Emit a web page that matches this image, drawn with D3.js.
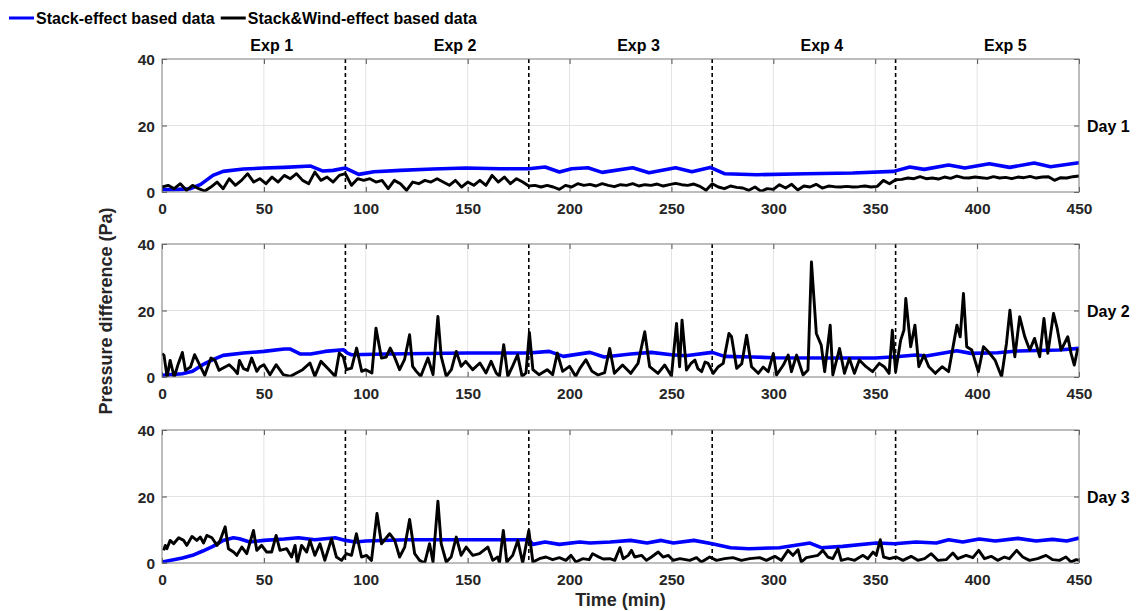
<!DOCTYPE html>
<html><head><meta charset="utf-8">
<script src="https://cdn.jsdelivr.net/npm/d3@7/dist/d3.min.js"></script>
<style>
html,body{margin:0;padding:0;background:#fff;}
svg{display:block;font-family:"Liberation Sans",Arial,sans-serif;}
</style></head>
<body>
<script>
// ---------- data ----------
const xTicks = [0,50,100,150,200,250,300,350,400,450];
const yTicks = [0,20,40];
const expLabels = ["Exp 1","Exp 2","Exp 3","Exp 4","Exp 5"];
const expMids = [45,135,225,315,405];
const dividers = [90,180,270,360];
const dayLabels = ["Day 1","Day 2","Day 3"];
const seriesNames = ["Stack-effect based data","Stack&Wind-effect based data"];

// Stack-effect (blue) [time, Pa]
const day1Stack = [[0,0.7],[8,0.8],[14,1.0],[19,2.3],[25,5],[30,6.2],[40,6.9],[50,7.2],[60,7.4],[73,7.8],[79,6.3],[84,6.5],[90,7.2],[96.5,5.3],[104,6.1],[117,6.5],[133,6.9],[149,7.2],[166,7.0],[180,7.0],[188,7.5],[195,6.0],[201,7.0],[209,7.3],[216,5.9],[231,7.3],[239,5.8],[252,7.3],[260,6.1],[269,7.4],[276,5.5],[292,5.2],[316,5.5],[339,5.7],[359,6.2],[367,7.5],[374,6.8],[386,8.1],[394,7.2],[406,8.5],[416,7.4],[428,8.7],[436,7.6],[450,8.8]];
const day2Stack = [[0,0.5],[10,1.0],[15,1.7],[20,3.7],[25,5.2],[30,6.5],[40,7.2],[50,7.7],[60,8.4],[63,8.4],[68,6.9],[73,6.9],[80,7.7],[89,8.2],[91,7.2],[93,6.7],[110,6.9],[150,7.2],[180,7.2],[190,7.7],[197,6.2],[210,7.4],[217,6.0],[230,6.9],[240,7.4],[250,6.7],[257,6.4],[270,7.4],[276,6.2],[290,6.0],[300,5.8],[330,5.7],[350,5.7],[360,6.1],[370,6.6],[375,6.3],[390,7.9],[397,7.1],[410,7.3],[420,7.8],[440,8.1],[450,8.6]];
const day3Stack = [[0,0.3],[10,1.5],[15,2.3],[20,3.6],[25,5.0],[30,6.8],[35,7.6],[38,7.3],[43,6.3],[50,6.8],[60,7.2],[67,7.6],[75,7.0],[85,7.6],[90,6.8],[95,6.3],[100,6.6],[120,7.0],[180,7.0],[182,5.6],[188,6.3],[195,5.6],[205,6.3],[210,6.0],[220,6.3],[230,6.8],[238,6.0],[245,6.8],[251,6.0],[261,6.8],[270,5.8],[279,4.6],[288,4.3],[303,4.6],[318,6.0],[323.5,4.6],[334,5.0],[350.5,6.0],[359.5,5.8],[370,6.3],[380,6.0],[386,7.0],[393,6.3],[401,7.2],[409,6.6],[420,7.4],[429,6.6],[437,7.1],[444,6.6],[450,7.5]];

// Stack&Wind-effect (black)
const day1WindStep = 3; // minutes between samples
const day1Wind = [1.5,2,1,2.5,0.5,2,1,0.3,1.5,3,
 1,4,2,3.5,5.5,3,4,2.5,4.5,3,
 5,4,5.5,3.5,2.5,6,3.5,4.5,3,5,
 5.5,2,4,3.5,4,3,3.5,1,3.5,2.5,
 0.5,3,2.5,3.5,3,4,3,2,3.5,1.5,
 3,2,3.5,2,5,3,4.5,2.5,4,3,
 1.8,2,1.5,2,1.5,0.8,2,1.5,2.5,2,
 2.3,1.8,2.5,2,1.6,2.2,2,2.5,1.8,2.2,
 2,2.4,1.8,2.2,2.6,2.2,2,2.4,1.7,0.5,
 2.5,1.5,1,1.8,1.4,1.2,0.5,1.5,0.2,1,
 0.8,2.2,1.2,2.3,0.6,1.8,1.5,2.3,1.2,1.8,
 1.6,1.5,1.7,1.5,1.6,1.8,1.5,1.7,3.5,2.5,
 3.7,3.8,4.2,4,4.6,4,4.2,3.9,4.5,4.1,
 4.8,4.3,4.2,4.5,4.3,4.1,4.6,4.2,4.4,4,
 4.5,4.3,4.7,4.2,4.5,4.6,3.5,4.3,4.2,4.6,
 4.8];
const day2Wind = [[0,7],[1,6.5],[2.5,0],[4,5],[6,0],[8,4],[10,7.4],[11.5,2],[14,3],[16,6.7],[19,3],[21,0.5],[24,5.7],[26,5],[28,2],[30,2.7],[33,3.7],[35,2.5],[37,1],[38,5],[40,2.5],[42,2],[44,5.7],[46.5,1.7],[48,3],[50,3.7],[53,0.7],[56,3.7],[59.5,0.7],[63,0.2],[66,1.2],[69,2.2],[72.6,4.2],[75,0.2],[78,4.7],[82,2.2],[85,0.2],[87,7.2],[89,6],[90.5,2.2],[93,2.7],[95.5,8.7],[98,1.7],[100,2.2],[103,1.2],[105,14.7],[107.7,5.7],[110,6],[112,8.7],[114,6.2],[116.6,2.2],[119,5.2],[121.5,12.7],[123,3.2],[124.8,1.7],[127,0.2],[130.5,5.7],[133,0.7],[135.4,18.2],[137,6.2],[139.5,0.2],[142,2.2],[144.4,7.7],[146.8,3.2],[149,4.7],[152.5,2.2],[156,4.2],[159,1.2],[161.5,4.7],[164,1.2],[165.6,0.2],[167.7,9.7],[169.7,0.2],[172,3.2],[174.5,6.7],[176.7,0.2],[178.6,1.2],[180.3,13.4],[182,2.2],[185,0.7],[189,2.2],[191.7,0.7],[194,7.2],[196.6,1.7],[200,3.2],[203,0.2],[205,2.5],[208,5.2],[211,1.7],[214,0.6],[217.2,1.3],[219.7,8.6],[222,1.1],[226,3.6],[230,1.1],[233.6,4.1],[236.9,13.6],[239.3,3.1],[243.4,1.1],[246.7,3.6],[250,0.3],[252.5,16.1],[254,3.1],[255.2,17.1],[257.4,2.1],[259.5,4],[261.5,5.1],[263,2.5],[264.8,1.6],[266.5,4.5],[268,4.1],[270.5,1.1],[273,3.1],[275.4,4.1],[278.2,13.1],[279.5,12.1],[282,2.6],[284.5,4],[286.9,12.6],[289.3,3.1],[292.6,1.1],[295,3],[297.5,1.6],[300,7.1],[301.6,0.6],[304.9,3.6],[307.3,6.6],[308.9,1.6],[311.4,6.6],[314.6,0.6],[317,2.1],[318.7,34.6],[321.1,13.1],[323.5,9.6],[325.2,1.6],[327.9,15.6],[329.2,0.6],[332.5,8.6],[334.9,1.1],[337.3,5.6],[339.8,1.1],[342.2,5.1],[345.5,3.1],[348.7,1.6],[352,4.1],[354.4,3.1],[356.8,1.1],[358.4,14.1],[360,1.6],[362.5,11.1],[364.1,14.1],[365,23.6],[367.4,9.1],[369.5,15.6],[371.4,3.1],[373.9,6.6],[376.3,3.1],[379.5,1.1],[382.8,3.1],[386,1.6],[390.1,15.6],[391.7,12.1],[393.3,25.1],[394.9,9.1],[397.4,8.1],[400.6,1.6],[403.1,9.1],[405.5,7.6],[408.8,5.1],[412,0.1],[414.4,10.1],[416.1,20.1],[418.5,6.1],[420.9,18.1],[423.4,12.1],[425.8,8.1],[428.2,11.6],[430.7,6.1],[432.8,17.6],[434.7,7.1],[437.5,19.1],[439.3,14.6],[441.2,8.1],[444.5,12.1],[446.1,7.1],[447.7,3.6],[449.4,8.6]];
const day3Wind = [[0.8,3.8],[1.6,5.3],[2.4,4.3],[4,6.8],[5.7,5.8],[8.2,7.6],[10.6,6.8],[12.2,5.3],[14.7,8.0],[17.1,6.8],[18.8,7.8],[20.4,6.0],[22,8.3],[24.5,7.6],[27,5.3],[28.5,6.8],[31,10.9],[32.6,4.3],[35.1,3.3],[36.7,2.3],[39.2,4.8],[41.6,2.8],[44.9,9.8],[46.5,3.8],[48.9,5.3],[51.4,3.3],[53.8,3.3],[56,8.3],[57.9,3.8],[61.2,4.3],[63.6,1.8],[65.3,5.3],[66.4,0],[68.5,5.3],[71,3.3],[72.6,6.8],[75,2.3],[77.5,5.8],[79.9,0.8],[83.2,7.3],[85.6,1.8],[88.1,0.8],[90.5,2.8],[93,2.3],[95.4,8.8],[97.9,1.8],[100.3,2.3],[102.8,0.8],[105.5,14.9],[107.7,5.8],[111.7,8.8],[114.2,6.8],[116.6,1.8],[119.1,4.8],[121.5,13.1],[124,2.8],[126.4,0.8],[128.9,0],[131.3,5.8],[133,0.3],[135.4,18.6],[137,5.8],[139.5,0.3],[141.9,1.8],[144.4,7.8],[146.8,2.3],[149.3,4.8],[152.5,2.3],[155.8,2.8],[159.9,4.8],[162.3,0.8],[164.8,1.8],[165.6,0],[167.5,9.8],[169.2,0.3],[172.1,2.3],[174.6,6.8],[177,0],[180,9.8],[182,0.3],[185.2,1.3],[188.4,1.8],[191.7,1.0],[195,1.6],[198.2,0.8],[200.7,2.3],[203.1,0.3],[206.4,1.3],[209.6,1.0],[211.3,2.8],[213.7,2.0],[216.5,1.2],[219.8,1.3],[222.2,0.8],[224.7,4.6],[226.3,1.3],[228.8,2.3],[230.4,3.8],[232,1.8],[235.3,2.3],[237.7,0.8],[240.2,1.8],[243.5,3.3],[245.9,1.8],[248.4,2.3],[250.8,0.8],[254.1,1.3],[259,0.8],[262.3,1.6],[264.7,0.3],[268.8,1.8],[272.1,0.8],[276.1,1.3],[280.2,1.6],[284.3,0.8],[288.4,1.3],[293.3,1.6],[296.6,0.8],[300.7,2.0],[303.9,0.8],[307.2,3.8],[309.6,2.3],[312.1,4.0],[313.7,0.3],[316.2,1.6],[319.4,2.0],[321.9,2.3],[324.3,3.8],[326.8,1.8],[329.2,1.3],[331.7,4.3],[333.3,0.8],[336.6,1.3],[339.9,0.8],[344,2.3],[346.4,1.3],[348.9,3.3],[350.5,2.3],[352.5,7.0],[354.1,1.8],[357,1.3],[360.3,1.8],[363.6,0.8],[367.6,2.0],[370.9,0.8],[374.2,1.3],[377.5,2.8],[380.7,0.8],[384.8,1.0],[388.1,3.0],[390.5,1.3],[394.6,2.3],[397.9,1.6],[400.8,3.8],[403.6,1.3],[406.9,2.0],[410.1,0.8],[413.4,1.8],[415.8,1.3],[419.4,3.8],[422.4,1.8],[425.7,0.8],[429.7,1.3],[433.8,2.3],[437.1,1.0],[440.4,0.8],[443.6,1.8],[446.1,0.3],[448.6,1.0],[450,0.8]];

// ---------- layout ----------
const W = 1148, H = 611;
const plotLeft = 162, plotRight = 1079;
const panelTops = [59, 244, 430];
const panelH = 133;
const blue = "#0000ff";
const axisGray = "#262626";

const svg = d3.select("body").append("svg").attr("width", W).attr("height", H);
const x = d3.scaleLinear().domain([0,450]).range([plotLeft, plotRight]);

const day1WindPts = day1Wind.map((v,i) => [i*day1WindStep, v]);
const panels = [
  {stack: day1Stack, wind: day1WindPts},
  {stack: day2Stack, wind: day2Wind},
  {stack: day3Stack, wind: day3Wind}
];

panels.forEach((p, i) => {
  const top = panelTops[i], bot = top + panelH;
  const y = d3.scaleLinear().domain([0,40]).range([bot, top]);
  const g = svg.append("g");

  // grid
  g.append("g").selectAll("line").data(xTicks.slice(1,-1)).join("line")
    .attr("x1", d => x(d)).attr("x2", d => x(d)).attr("y1", top).attr("y2", bot)
    .attr("stroke", "#e3e3e3").attr("stroke-width", 1);
  g.append("g").selectAll("line").data(yTicks.slice(1,-1)).join("line")
    .attr("x1", plotLeft).attr("x2", plotRight).attr("y1", d => y(d)).attr("y2", d => y(d))
    .attr("stroke", "#e3e3e3").attr("stroke-width", 1);

  // clip
  const cid = "clip" + i;
  svg.append("clipPath").attr("id", cid).append("rect")
    .attr("x", plotLeft).attr("y", top - 1).attr("width", plotRight - plotLeft).attr("height", panelH + 1);

  // dividers
  g.append("g").selectAll("line").data(dividers).join("line")
    .attr("x1", d => x(d)).attr("x2", d => x(d)).attr("y1", top).attr("y2", bot)
    .attr("stroke", "#000").attr("stroke-width", 1.6).attr("stroke-dasharray", "4,3");

  const line = d3.line().x(d => x(d[0])).y(d => y(d[1]));
  const lg = g.append("g").attr("clip-path", `url(#${cid})`);
  lg.append("path").datum(p.stack).attr("d", line)
    .attr("fill", "none").attr("stroke", blue).attr("stroke-width", 3.6).attr("stroke-linejoin", "round");
  lg.append("path").datum(p.wind).attr("d", line)
    .attr("fill", "none").attr("stroke", "#000").attr("stroke-width", 2.9).attr("stroke-linejoin", "round");

  // axes
  const fmt = d3.format("d");
  const ax = g.append("g").attr("transform", `translate(0,${bot})`)
    .call(d3.axisBottom(x).tickValues(xTicks).tickFormat(fmt).tickSizeInner(-5).tickSizeOuter(0).tickPadding(11));
  const axT = g.append("g").attr("transform", `translate(0,${top})`)
    .call(d3.axisTop(x).tickValues(xTicks).tickFormat("").tickSizeInner(-5).tickSizeOuter(0));
  const ay = g.append("g").attr("transform", `translate(${plotLeft},0)`)
    .call(d3.axisLeft(y).tickValues(yTicks).tickFormat(fmt).tickSizeInner(-5).tickSizeOuter(0).tickPadding(7));
  const ayR = g.append("g").attr("transform", `translate(${plotRight},0)`)
    .call(d3.axisRight(y).tickValues(yTicks).tickFormat("").tickSizeInner(-5).tickSizeOuter(0));
  [ax, axT, ay, ayR].forEach(a => {
    a.select(".domain").remove();
    a.selectAll(".tick line").attr("stroke", axisGray).attr("stroke-width", 0.8);
    a.selectAll("text").attr("fill", axisGray).attr("font-size", 15.5).attr("font-weight", "bold")
      .attr("font-family", '"Liberation Sans",Arial,sans-serif');
  });
  ay.selectAll("text").attr("dy", "0.36em");

  // box
  g.append("rect").attr("x", plotLeft).attr("y", top).attr("width", plotRight - plotLeft).attr("height", panelH)
    .attr("fill", "none").attr("stroke", "#7a7a7a").attr("stroke-width", 1);

  // day label
  g.append("text").attr("x", plotRight + 8).attr("y", (top + bot) / 2 + 6)
    .attr("font-size", 16).attr("font-weight", "bold").attr("fill", "#000").text(dayLabels[i]);

  if (i === 0) {
    g.append("g").selectAll("text").data(expLabels).join("text")
      .attr("x", (d, k) => x(expMids[k]) + 18).attr("y", top - 8)
      .attr("text-anchor", "middle").attr("font-size", 16).attr("font-weight", "bold").attr("fill", "#000")
      .text(d => d);
  }
});

// axis titles
svg.append("text").attr("transform", `translate(112,${(panelTops[0] + panelTops[2] + panelH) / 2}) rotate(-90)`)
  .attr("text-anchor", "middle").attr("font-size", 18).attr("font-weight", "bold").attr("fill", axisGray)
  .text("Pressure difference (Pa)");
svg.append("text").attr("x", (plotLeft + plotRight) / 2).attr("y", 606)
  .attr("text-anchor", "middle").attr("font-size", 18).attr("font-weight", "bold").attr("fill", axisGray)
  .text("Time (min)");

// legend
const leg = svg.append("g");
let lx = 9;
[{name: seriesNames[0], color: blue}, {name: seriesNames[1], color: "#000"}].forEach(it => {
  leg.append("line").attr("x1", lx).attr("x2", lx + 25).attr("y1", 18).attr("y2", 18)
    .attr("stroke", it.color).attr("stroke-width", 3);
  const t = leg.append("text").attr("x", lx + 27).attr("y", 24).attr("font-size", 16).attr("font-weight", "bold")
    .attr("fill", "#000").text(it.name);
  lx = lx + 27 + t.node().getComputedTextLength() + 6;
});
</script>
</body></html>
